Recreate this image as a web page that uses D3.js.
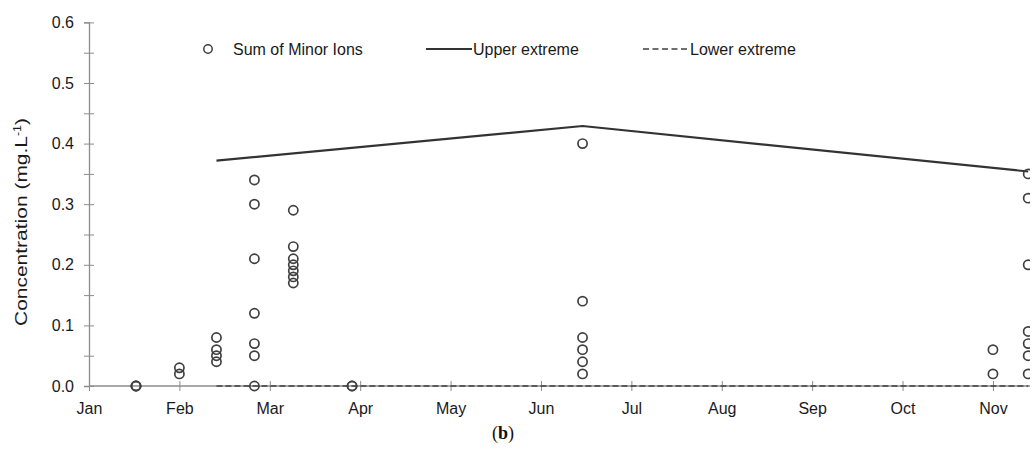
<!DOCTYPE html>
<html>
<head>
<meta charset="utf-8">
<script src="https://cdn.jsdelivr.net/npm/d3@7"></script>
<style>
  body { margin: 0; background: #fff; }
  svg { display: block; }
</style>
</head>
<body>
<svg id="chart"></svg>
<script>
// month labels on the x axis (one unit = one month, Jan = 0)
const months = ['Jan', 'Feb', 'Mar', 'Apr', 'May', 'Jun', 'Jul', 'Aug', 'Sep', 'Oct', 'Nov']

// sampling dates (in months) and the values measured on each
const sampleDates = [0.52, 1.0, 1.41, 1.83, 2.26, 2.91, 5.46, 10.0, 10.39]
const sampleValues = [
  [0, 0, 0],
  [0.03, 0.02],
  [0.08, 0.06, 0.05, 0.04],
  [0.34, 0.30, 0.21, 0.12, 0.07, 0.05, 0],
  [0.29, 0.23, 0.21, 0.20, 0.19, 0.18, 0.17],
  [0, 0],
  [0.40, 0.14, 0.08, 0.06, 0.04, 0.02],
  [0.06, 0.02],
  [0.35, 0.31, 0.20, 0.09, 0.07, 0.05, 0.02]
]

const upperDates = [1.41, 5.46, 10.39]
const upperValues = [0.372, 0.429, 0.354]
const lowerDates = [1.41, 10.39]
const lowerValues = [0, 0]

const width = 1033, height = 461
const margin = {left: 89, right: 3, top: 22.4, bottom: 75}
const axisColor = '#8c8c8c'
const inkColor = '#404040'
const textColor = '#1a1a1a'
const font = 'Liberation Sans, Arial, sans-serif'
const fontSize = 16

const svg = d3.select('#chart').attr('width', width).attr('height', height)

const x = d3.scaleLinear().domain([0, 10.41]).range([margin.left, width - margin.right])
const y = d3.scaleLinear().domain([0, 0.6]).range([height - margin.bottom, margin.top])

svg.append('clipPath').attr('id', 'plotClip')
  .append('rect')
  .attr('x', margin.left - 10).attr('y', 0)
  .attr('width', x(10.41) - margin.left + 10).attr('height', height)

// y axis, minor ticks every 0.05
const yAxis = d3.axisLeft(y).tickValues(d3.range(0, 0.601, 0.05)).tickSize(5)
  .tickFormat(d => Math.round(d * 100) % 10 === 0 ? d3.format('.1f')(d) : '')
const gy = svg.append('g').attr('transform', `translate(${margin.left},0)`).call(yAxis)
gy.select('.domain').attr('stroke', axisColor).attr('stroke-width', 1.3)
gy.selectAll('.tick line').attr('stroke', axisColor).attr('x1', -5).attr('x2', 5)
gy.selectAll('.tick text').attr('x', -15).attr('font-family', font).attr('font-size', fontSize).attr('fill', textColor)

// x axis
const xAxis = d3.axisBottom(x).tickValues(d3.range(months.length)).tickSize(5)
  .tickFormat(i => months[i])
const gx = svg.append('g').attr('transform', `translate(0,${y(0)})`).call(xAxis)
gx.select('.domain').attr('stroke', axisColor).attr('stroke-width', 1.3).attr('d', `M${margin.left},0H${x(10.41)}`)
gx.selectAll('.tick line').attr('stroke', axisColor).attr('y1', -5).attr('y2', 5)
gx.selectAll('.tick text').attr('y', 17).attr('font-family', font).attr('font-size', fontSize).attr('fill', textColor)

const plot = svg.append('g').attr('clip-path', 'url(#plotClip)')

const line = d3.line().x(d => x(d[0])).y(d => y(d[1]))

plot.append('path')
  .datum(d3.zip(lowerDates, lowerValues))
  .attr('d', line)
  .attr('fill', 'none')
  .attr('stroke', inkColor)
  .attr('stroke-width', 1.5)
  .attr('stroke-dasharray', '6,3')

plot.append('path')
  .datum(d3.zip(upperDates, upperValues))
  .attr('d', line)
  .attr('fill', 'none')
  .attr('stroke', '#333')
  .attr('stroke-width', 2.2)

let points = []
sampleDates.forEach((d, i) => sampleValues[i].forEach(v => points.push([d, v])))

plot.selectAll('circle.sample')
  .data(points)
  .join('circle')
  .attr('class', 'sample')
  .attr('cx', d => x(d[0]))
  .attr('cy', d => y(d[1]))
  .attr('r', 4.6)
  .attr('fill', 'none')
  .attr('stroke', inkColor)
  .attr('stroke-width', 1.7)

// y axis title (stretched along its length like the original)
const title = svg.append('text')
  .attr('transform', 'translate(27,222) rotate(-90)')
  .attr('text-anchor', 'middle')
  .attr('font-family', font)
  .attr('font-size', 17)
  .attr('fill', textColor)
  .attr('textLength', 208)
  .attr('lengthAdjust', 'spacingAndGlyphs')
title.append('tspan').text('Concentration (mg.L')
title.append('tspan').attr('font-size', 10).attr('dy', -6).text('-1')
title.append('tspan').attr('dy', 6).text(')')

// legend
const legend = svg.append('g').attr('font-family', font).attr('font-size', fontSize).attr('fill', textColor)
legend.append('circle').attr('cx', 208).attr('cy', 49).attr('r', 4.2)
  .attr('fill', 'none').attr('stroke', inkColor).attr('stroke-width', 1.5)
legend.append('text').attr('x', 233).attr('y', 55).text('Sum of Minor Ions')
legend.append('line').attr('x1', 426).attr('x2', 472).attr('y1', 49).attr('y2', 49)
  .attr('stroke', '#333').attr('stroke-width', 2.2)
legend.append('text').attr('x', 473).attr('y', 55).text('Upper extreme')
legend.append('line').attr('x1', 643).attr('x2', 689).attr('y1', 49).attr('y2', 49)
  .attr('stroke', inkColor).attr('stroke-width', 1.5).attr('stroke-dasharray', '6,3.5')
legend.append('text').attr('x', 690).attr('y', 55).text('Lower extreme')

svg.append('text')
  .attr('x', 503).attr('y', 439)
  .attr('text-anchor', 'middle')
  .attr('font-family', 'Liberation Serif, DejaVu Serif, serif')
  .attr('font-size', 18)
  .attr('fill', '#111')
  .html('(<tspan font-weight="bold">b</tspan>)')
</script>
</body>
</html>
